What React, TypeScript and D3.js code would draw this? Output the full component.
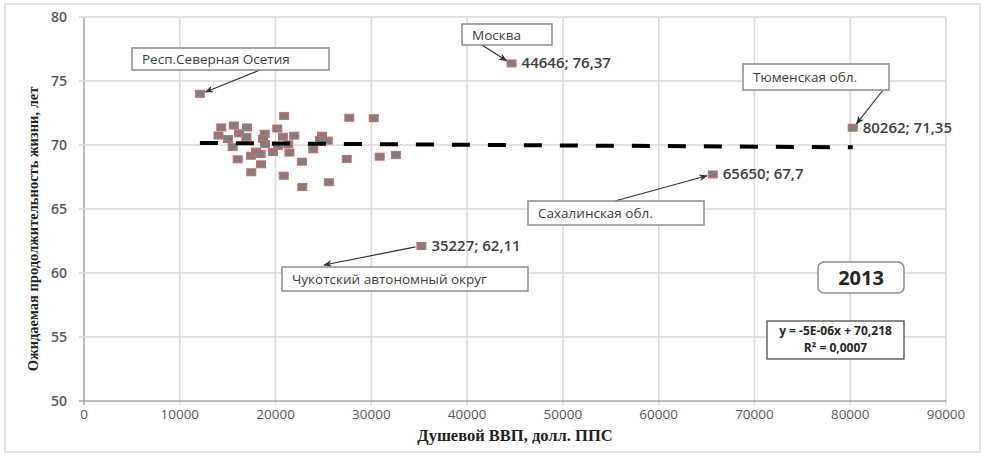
import * as d3 from "d3";
import React from "react";

// values (per-capita GRP, life expectancy)
const gdp = [
  12100, 20900, 27700, 30250, 14330, 15640, 17020, 20180, 16180, 14040,
  15030, 16960, 18870, 18690, 20780, 21950, 24850, 25450, 24640, 18900,
  21330, 15520, 17430, 17960, 18450, 19730, 21450, 23940, 16050, 18480,
  22750, 27430, 17470, 20850, 22790, 25570, 30870, 32570, 20250,
  44646, 80262, 65650, 35227,
];
const life = [
  74.0, 72.27, 72.13, 72.09, 71.37, 71.52, 71.37, 71.29, 70.91, 70.74,
  70.47, 70.63, 70.88, 70.48, 70.65, 70.73, 70.73, 70.34, 70.39, 70.08,
  70.05, 69.84, 69.16, 69.48, 69.3, 69.45, 69.41, 69.66, 68.88, 68.49,
  68.7, 68.91, 67.87, 67.6, 66.72, 67.09, 69.09, 69.22, 69.92,
  76.37, 71.35, 67.7, 62.11,
];

const xTicks = [0, 10000, 20000, 30000, 40000, 50000, 60000, 70000, 80000, 90000];
const yTicks = [50, 55, 60, 65, 70, 75, 80];

const slope = -5e-6;
const intercept = 70.218;
const equationLines = ["y = -5E-06x + 70,218", "R² = 0,0007"];
const yearLabel = "2013";

const calloutNames = ["Респ.Северная Осетия", "Москва", "Тюменская обл.", "Сахалинская обл.", "Чукотский автономный округ"];
const calloutIdx = [0, 39, 40, 41, 42];
const valueLabelIdx = [39, 40, 41, 42];

const xTitle = "Душевой ВВП, долл. ППС";
const yTitle = "Ожидаемая продолжительность жизни, лет";

// box geometry for the callouts (layout only)
const boxes = [
  { x: 132, y: 48, w: 197, h: 22, from: [260, 70], headAtBox: false },
  { x: 462, y: 24, w: 90, h: 21, from: [482, 45], headAtBox: false },
  { x: 743, y: 64, w: 146, h: 26, from: [883, 90], headAtBox: false },
  { x: 528, y: 201, w: 176, h: 24, from: [615, 201], headAtBox: false },
  { x: 282, y: 267, w: 246, h: 24, from: [324, 265], headAtBox: true },
];

const W = 985, H = 456;
const left = 84, right = 946, top = 17, bottom = 401;

export default function App() {
  const x = d3.scaleLinear().domain([0, 90000]).range([left, right]);
  const y = d3.scaleLinear().domain([50, 80]).range([bottom, top]);

  const x0 = d3.min(gdp) as number;
  const x1 = d3.max(gdp) as number;
  const trend = d3.line<number>()
    .x((d) => x(d))
    .y((d) => y(slope * d + intercept))([x0, x1]);

  const fmt = (v: number) => String(v).replace(".", ",");
  const sans = "'Open Sans', 'DejaVu Sans', sans-serif";
  const serif = "'Liberation Serif', 'Times New Roman', serif";

  return (
    <div>
      <style>{`body{margin:0}`}</style>
      <svg width={W} height={H} style={{ display: "block", background: "#fff" }}>
        <defs>
          <marker id="arr" viewBox="0 0 10 8" refX="9" refY="4" markerWidth="9" markerHeight="7"
            markerUnits="userSpaceOnUse" orient="auto">
            <path d="M0,0 L10,4 L0,8 L3,4 Z" fill="#333" />
          </marker>
        </defs>
        <rect x={5} y={4} width={975} height={448} fill="none" stroke="#d9d9d9" strokeWidth={1.5} />

        {/* grid */}
        {xTicks.map((t) => (
          <line key={"gx" + t} x1={x(t)} x2={x(t)} y1={top} y2={bottom + 4}
            stroke={t === 0 ? "#a6a6a6" : "#d9d9d9"} strokeWidth={1.5} />
        ))}
        {yTicks.map((t) => (
          <line key={"gy" + t} x1={left - 5} x2={right} y1={y(t)} y2={y(t)}
            stroke={t === 50 ? "#a6a6a6" : "#d9d9d9"} strokeWidth={1.5} />
        ))}

        {/* tick labels */}
        {xTicks.map((t) => (
          <text key={"tx" + t} x={x(t)} y={bottom + 18} textAnchor="middle"
            fontFamily={sans} fontSize={13.5} fill="#595959">{t}</text>
        ))}
        {yTicks.map((t) => (
          <text key={"ty" + t} x={left - 17} y={y(t) + 5} textAnchor="end"
            fontFamily={sans} fontSize={14} fontWeight={600} fill="#595959">{t}</text>
        ))}

        {/* axis titles */}
        <text x={515} y={441} textAnchor="middle" fontFamily={serif}
          fontWeight="bold" fontSize={16.5} fill="#222">{xTitle}</text>
        <text transform={`translate(38,${(top + bottom) / 2 + 20}) rotate(-90)`} textAnchor="middle"
          fontFamily={serif} fontWeight="bold" fontSize={14.5} fill="#222">{yTitle}</text>

        {/* points */}
        {gdp.map((g, i) => (
          <rect key={"p" + i} x={x(g) - 4.5} y={y(life[i]) - 3.5} width={9} height={7}
            fill="#7f7f7f" stroke="#d46a6a" strokeWidth={1} />
        ))}

        {/* trend */}
        <path d={trend || ""} fill="none" stroke="#000" strokeWidth={4} strokeDasharray="18,18" />

        {/* value labels */}
        {valueLabelIdx.map((i) => (
          <text key={"v" + i} x={x(gdp[i]) + 10} y={y(life[i]) + 5}
            fontFamily={sans} fontSize={15} fontWeight={600} fill="#404040">{`${gdp[i]}; ${fmt(life[i])}`}</text>
        ))}

        {/* callouts */}
        {calloutNames.map((name, k) => {
          const b = boxes[k];
          const i = calloutIdx[k];
          const px = x(gdp[i]);
          const py = y(life[i]);
          const dx = b.from[0] - px, dy = b.from[1] - py;
          const len = Math.hypot(dx, dy);
          const ex = px + (dx / len) * 6, ey = py + (dy / len) * 5;
          return (
            <g key={"c" + k}>
              {b.headAtBox ? (
                <line x1={ex} y1={ey} x2={b.from[0]} y2={b.from[1]} stroke="#333" strokeWidth={1.2} markerEnd="url(#arr)" />
              ) : (
                <line x1={b.from[0]} y1={b.from[1]} x2={ex} y2={ey} stroke="#333" strokeWidth={1.2} markerEnd="url(#arr)" />
              )}
              <rect x={b.x} y={b.y} width={b.w} height={b.h} fill="#fff" stroke="#8c8c8c" strokeWidth={1.5} />
              <text x={b.x + 10} y={b.y + b.h / 2 + 5} fontFamily={sans} fontSize={13.5} fill="#404040">{name}</text>
            </g>
          );
        })}

        {/* year box */}
        <rect x={818} y={262} width={86} height={31} rx={6} fill="#fff" stroke="#8c8c8c" strokeWidth={1.5} />
        <text x={861} y={285} textAnchor="middle" fontFamily={sans} fontWeight="bold" fontSize={20} fill="#262626">{yearLabel}</text>

        {/* equation box */}
        <rect x={767} y={321} width={137} height={38} fill="#fff" stroke="#404040" strokeWidth={1.2} />
        {equationLines.map((s, k) => (
          <text key={"eq" + k} x={835.5} y={335 + k * 17} textAnchor="middle" fontFamily={sans}
            fontWeight="bold" fontSize={12} fill="#262626">{s}</text>
        ))}
      </svg>
    </div>
  );
}
